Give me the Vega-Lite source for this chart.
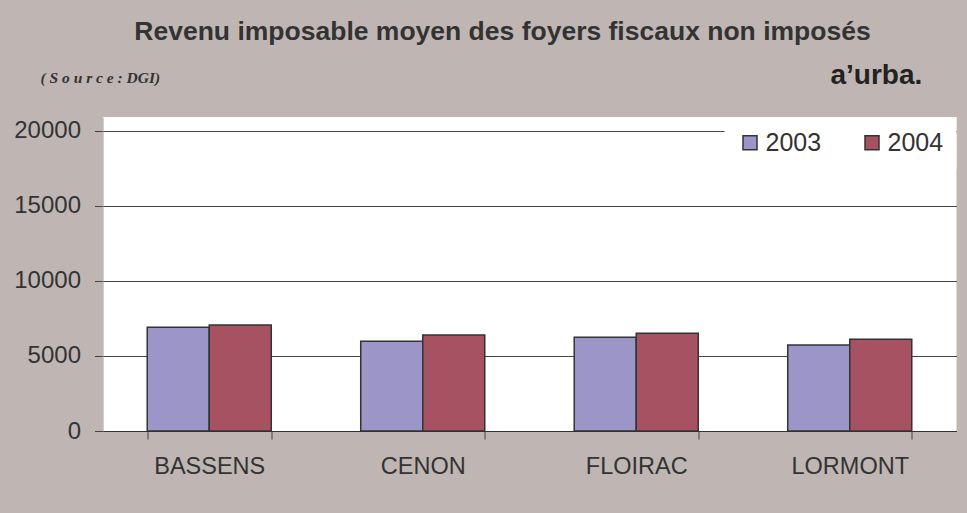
{
  "$schema": "https://vega.github.io/schema/vega-lite/v6.json",
  "autosize": {"type": "none"},
  "padding": {"left": 102.5, "top": 117, "right": 10.5, "bottom": 82},
  "width": 854,
  "height": 314,
  "background": "#BFB6B3",
  "title": {
    "text": "Revenu imposable moyen des foyers fiscaux non imposés",
    "font": "Liberation Sans",
    "fontSize": 26.5,
    "fontWeight": "bold",
    "color": "#333333",
    "anchor": "middle",
    "dx": -27,
    "offset": 16
  },
  "data": {
    "values": [
      {"commune": "BASSENS", "annee": "2003", "revenu": 6910},
      {"commune": "BASSENS", "annee": "2004", "revenu": 7070},
      {"commune": "CENON", "annee": "2003", "revenu": 5980},
      {"commune": "CENON", "annee": "2004", "revenu": 6400},
      {"commune": "FLOIRAC", "annee": "2003", "revenu": 6250},
      {"commune": "FLOIRAC", "annee": "2004", "revenu": 6510},
      {"commune": "LORMONT", "annee": "2003", "revenu": 5730},
      {"commune": "LORMONT", "annee": "2004", "revenu": 6110}
    ]
  },
  "mark": {"type": "bar", "stroke": "#333333", "strokeWidth": 1.5},
  "encoding": {
    "x": {
      "field": "commune",
      "type": "nominal",
      "sort": null,
      "scale": {"paddingInner": 0.419, "paddingOuter": 0.2095},
      "axis": {
        "title": "a’urba.",
        "titleX": 727.5,
        "titleY": -348,
        "titleAlign": "left",
        "titleBaseline": "alphabetic",
        "titleFont": "Liberation Sans",
        "titleFontSize": 28,
        "titleFontWeight": "bold",
        "titleColor": "#222222",
        "labelAngle": 0,
        "labelFont": "Liberation Sans",
        "labelFontSize": 23.5,
        "labelColor": "#333333",
        "labelPadding": 15,
        "tickBand": "extent",
        "tickSize": 8,
        "tickColor": "#444444",
        "domainColor": "#333333"
      }
    },
    "xOffset": {"field": "annee", "type": "nominal", "scale": {"paddingInner": 0, "paddingOuter": 0}},
    "y": {
      "field": "revenu",
      "type": "quantitative",
      "scale": {"domain": [0, 20933], "nice": false},
      "axis": {
        "values": [0, 5000, 10000, 15000, 20000],
        "format": "d",
        "grid": true,
        "gridColor": "#444444",
        "gridWidth": 1,
        "tickColor": "#444444",
        "tickSize": 8,
        "labelFont": "Liberation Sans",
        "labelFontSize": 24,
        "labelColor": "#333333",
        "labelPadding": 14,
        "domainColor": "#999999",
        "title": "( S o u r c e  :  DGI)",
        "titleAngle": 0,
        "titleX": -62.5,
        "titleY": -40,
        "titleAlign": "left",
        "titleBaseline": "middle",
        "titleFont": "Liberation Serif",
        "titleFontStyle": "italic",
        "titleFontWeight": "bold",
        "titleFontSize": 15.5,
        "titleColor": "#333333"
      }
    },
    "color": {
      "field": "annee",
      "type": "nominal",
      "scale": {"domain": ["2003", "2004"], "range": ["#9B95C8", "#A65262"]},
      "legend": {
        "title": null,
        "orient": "top-right",
        "direction": "horizontal",
        "offset": 0,
        "padding": 13,
        "fillColor": "white",
        "symbolType": "square",
        "symbolSize": 196,
        "symbolStrokeColor": "#333333",
        "symbolStrokeWidth": 1.5,
        "symbolOpacity": 1,
        "labelFont": "Liberation Sans",
        "labelFontSize": 25,
        "labelColor": "#333333",
        "labelOffset": 3,
        "columnPadding": 38
      }
    }
  },
  "config": {
    "view": {"stroke": null, "fill": "white"}
  }
}
